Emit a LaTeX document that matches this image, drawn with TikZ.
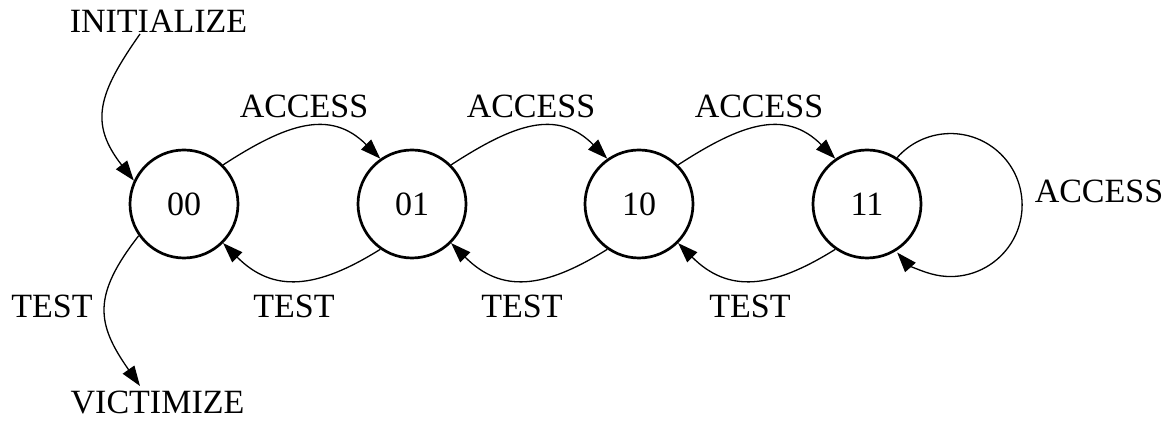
\documentclass[tikz,border=0pt]{standalone}
\usepackage{fontspec}
\setmainfont{Liberation Serif}
\usetikzlibrary{arrows.meta}
\begin{document}
\begin{tikzpicture}[x=1pt,y=1pt,
  font=\fontsize{34}{40}\selectfont,
  state/.style={circle, draw, line width=2.7pt, minimum size=108pt, inner sep=0pt},
  lbl/.style={inner sep=0pt, anchor=base},
  edge/.style={line width=1.3pt, -{Triangle[length=20pt,width=14pt]}}]
\useasboundingbox (0,0) rectangle (1166,420);

% states
\node[state] (s00) at (184,216) {00};
\node[state] (s01) at (412,216) {01};
\node[state] (s10) at (639,216) {10};
\node[state] (s11) at (867,216) {11};

% external labels
\node[lbl] (ini) at (158.5,387) {INITIALIZE};
\node[lbl] (vic) at (157.5,7) {VICTIMIZE};
\node[lbl] (t0) at (52,102) {TEST};
\coordinate (iniS) at (140,386);
\coordinate (vicN) at (140,34);

% edge labels
\node[lbl] (a1) at (304,302) {ACCESS};
\node[lbl] (a2) at (531,302) {ACCESS};
\node[lbl] (a3) at (759,302) {ACCESS};
\node[lbl] (a4) at (1099,217) {ACCESS};
\node[lbl] (t1) at (294,102) {TEST};
\node[lbl] (t2) at (522,102) {TEST};
\node[lbl] (t3) at (750,102) {TEST};

% initial and final transitions
\draw[edge] (iniS) .. controls +(235:73) and +(128:73) .. (s00.155);
\draw[edge] (s00.215) .. controls +(232:76) and +(125:76) .. (vicN);

% ACCESS transitions
\draw[edge] (s00.45) .. controls +(33:75) and +(135:71) .. (s01.125);
\draw[edge] (s01.45) .. controls +(33:75) and +(135:71) .. (s10.125);
\draw[edge] (s10.45) .. controls +(33:75) and +(135:71) .. (s11.125);
\draw[edge] (s11.57) arc[start angle=138.4, end angle=-138.4, radius=71.5];

% TEST transitions
\draw[edge] (s01.235) .. controls +(212:75) and +(315:71) .. (s00.315);
\draw[edge] (s10.235) .. controls +(212:75) and +(315:71) .. (s01.315);
\draw[edge] (s11.235) .. controls +(212:75) and +(315:71) .. (s10.315);
\end{tikzpicture}
\end{document}
